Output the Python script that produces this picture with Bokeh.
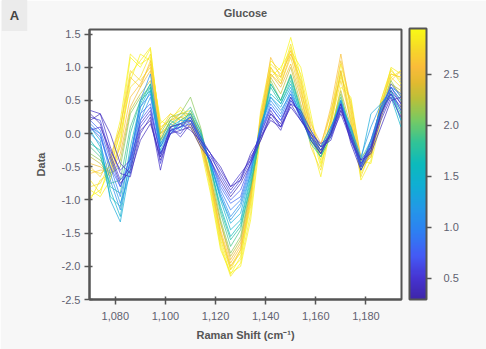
import numpy as np
from bokeh.plotting import figure
from bokeh.models import (ColumnDataSource, LinearColorMapper, ColorBar, FixedTicker,
                          NumeralTickFormatter, Label, Range1d)
from bokeh.transform import linear_cmap
from bokeh.embed import file_html
from bokeh.resources import INLINE

# ---------------- data ----------------
raman_shift = [1070, 1074, 1078, 1082, 1086, 1090, 1094, 1098, 1102, 1106, 1110, 1114,
               1118, 1122, 1126, 1130, 1134, 1138, 1142, 1146, 1150, 1154, 1158, 1162,
               1166, 1170, 1174, 1178, 1182, 1186, 1190, 1194]

concentration = [2.93, 2.90, 2.88, 2.85, 2.80, 2.75, 2.65, 2.60, 2.50, 2.30, 2.10, 1.90,
                 1.75, 1.65, 1.50, 1.35, 1.20, 1.10, 0.95, 0.80, 0.70, 0.60, 0.50, 0.45,
                 0.40, 0.35]

spectra = [
    [-0.95, -0.85, -0.55, 0.05, 1.15, 1.0, 1.28, 0.05, 0.25, 0.35, 0.2, -0.05, -0.8, -1.65, -2.12, -1.85, -1.1, 0.35, 1.1, 0.95, 1.45, 0.85, 0.05, -0.5, 0.25, 1.05, 0.4, -0.6, -0.3, 0.5, 0.98, 0.75],
    [-0.85, -0.95, -0.7, -0.15, 0.8, 1.2, 1.1, 0.2, 0.1, 0.25, 0.15, -0.2, -0.9, -1.75, -2.1, -2.0, -1.3, 0.0, 0.85, 1.0, 1.25, 1.0, 0.3, -0.45, 0.0, 0.7, 0.55, -0.4, -0.45, 0.2, 0.85, 0.95],
    [-0.7, -0.9, -0.4, 0.2, 1.2, 1.05, 1.15, 0.15, 0.3, 0.2, 0.3, 0.05, -0.65, -1.5, -2.05, -1.9, -1.0, 0.2, 1.0, 0.8, 1.3, 0.7, -0.1, -0.65, 0.1, 0.95, 0.3, -0.7, -0.4, 0.4, 0.9, 0.85],
    [-1.0, -0.7, -0.6, -0.1, 0.9, 1.1, 1.3, 0.0, 0.15, 0.3, 0.35, -0.1, -0.85, -1.7, -2.15, -1.95, -1.2, 0.1, 1.05, 0.9, 1.2, 0.9, 0.2, -0.3, 0.35, 0.85, 0.5, -0.5, -0.35, 0.35, 1.0, 0.9],
    [-0.55, -0.6, -0.5, 0.0, 0.7, 0.85, 1.2, 0.1, 0.2, 0.4, 0.25, 0.0, -0.7, -1.55, -2.0, -1.8, -0.95, 0.25, 0.95, 0.85, 1.35, 0.75, 0.0, -0.4, 0.2, 0.9, 0.25, -0.55, -0.2, 0.45, 0.85, 0.7],
    [-0.8, -0.75, -0.45, 0.1, 0.95, 0.8, 1.0, -0.05, 0.2, 0.25, 0.3, -0.05, -0.75, -1.6, -2.05, -1.75, -1.05, 0.15, 0.9, 0.75, 1.15, 0.6, -0.2, -0.55, 0.15, 0.8, 0.2, -0.65, -0.25, 0.5, 0.95, 0.8],
    [-0.5, -0.65, -0.35, 0.1, 0.85, 0.7, 1.1, 0.05, 0.3, 0.2, 0.1, -0.2, -0.75, -1.5, -2.0, -1.75, -0.95, 0.3, 1.0, 0.75, 1.2, 0.8, 0.15, -0.15, 0.3, 1.1, 0.45, -0.35, -0.2, 0.45, 0.9, 0.85],
    [-0.6, -0.55, -0.55, -0.2, 0.55, 0.75, 1.05, 0.0, 0.1, 0.25, 0.2, -0.1, -0.7, -1.45, -1.95, -1.7, -0.9, 0.2, 1.15, 0.85, 1.25, 0.65, 0.1, -0.2, 0.4, 1.2, 0.35, -0.45, -0.3, 0.3, 0.8, 0.95],
    [-0.45, -0.5, -0.6, -0.3, 0.4, 0.7, 0.95, -0.1, 0.1, 0.15, 0.2, -0.15, -0.65, -1.35, -1.9, -1.65, -0.85, 0.1, 0.9, 0.7, 1.05, 0.55, 0.0, -0.3, 0.2, 0.95, 0.15, -0.5, -0.35, 0.25, 0.75, 0.6],
    [-0.35, -0.45, -0.65, -0.4, 0.35, 0.6, 0.8, -0.1, 0.2, 0.3, 0.3, -0.05, -0.65, -1.35, -1.85, -1.6, -0.85, 0.05, 0.85, 0.6, 1.0, 0.45, -0.05, -0.35, 0.05, 0.65, 0.1, -0.55, -0.3, 0.35, 0.75, 0.65],
    [-0.3, -0.4, -0.6, -0.5, 0.3, 0.55, 0.7, 0.0, 0.25, 0.3, 0.55, 0.1, -0.55, -1.3, -1.8, -1.55, -0.8, 0.0, 0.8, 0.5, 0.9, 0.4, -0.1, -0.3, 0.0, 0.6, 0.0, -0.5, -0.25, 0.4, 0.8, 0.55],
    [-0.2, -0.35, -0.75, -0.7, 0.1, 0.5, 0.75, -0.15, 0.15, 0.25, 0.4, 0.05, -0.5, -1.2, -1.7, -1.45, -0.75, 0.0, 0.75, 0.5, 0.85, 0.35, -0.1, -0.35, 0.05, 0.55, 0.05, -0.45, -0.2, 0.35, 0.7, 0.5],
    [-0.15, -0.25, -0.8, -0.9, 0.0, 0.5, 0.65, -0.1, 0.2, 0.1, 0.35, 0.05, -0.5, -1.15, -1.6, -1.4, -0.8, 0.0, 0.7, 0.45, 0.8, 0.3, -0.15, -0.35, -0.05, 0.45, 0.1, -0.4, -0.1, 0.3, 0.65, 0.2],
    [-0.1, -0.3, -0.95, -1.1, -0.2, 0.45, 0.75, -0.2, 0.1, 0.2, 0.3, 0.0, -0.5, -1.1, -1.55, -1.35, -0.7, 0.05, 0.75, 0.5, 0.88, 0.35, -0.05, -0.3, 0.0, 0.5, 0.0, -0.45, -0.15, 0.35, 0.6, 0.3],
    [0.05, -0.2, -0.85, -1.25, -0.35, 0.4, 0.7, -0.25, 0.05, 0.15, 0.25, -0.05, -0.45, -1.0, -1.45, -1.3, -0.65, 0.1, 0.6, 0.45, 0.75, 0.3, -0.1, -0.25, 0.05, 0.5, -0.05, -0.5, -0.1, 0.4, 0.55, 0.1],
    [0.1, -0.1, -1.0, -1.33, -0.5, 0.3, 0.65, -0.3, 0.0, 0.2, 0.2, -0.05, -0.45, -0.95, -1.35, -1.2, -0.6, 0.1, 0.55, 0.4, 0.7, 0.25, -0.05, -0.2, 0.1, 0.45, 0.05, -0.4, 0.3, 0.45, 0.65, 0.35],
    [0.1, 0.0, -0.6, -1.05, -0.6, 0.2, 0.55, -0.2, 0.15, 0.05, 0.3, 0.0, -0.45, -0.95, -1.3, -1.1, -0.6, 0.15, 0.55, 0.35, 0.6, 0.3, 0.05, -0.2, 0.1, 0.4, 0.1, -0.35, 0.1, 0.45, 0.6, 0.2],
    [0.0, -0.15, -0.7, -1.15, -0.4, 0.5, 0.9, -0.15, 0.1, 0.15, 0.25, -0.1, -0.45, -0.9, -1.25, -1.05, -0.55, 0.1, 0.5, 0.3, 0.65, 0.25, -0.1, -0.3, 0.0, 0.5, 0.0, -0.55, -0.2, 0.35, 0.7, 0.5],
    [0.15, 0.0, -0.5, -0.95, -0.3, 0.4, 0.6, -0.2, 0.05, 0.1, 0.2, -0.1, -0.4, -0.85, -1.15, -1.0, -0.5, 0.05, 0.45, 0.25, 0.6, 0.2, -0.05, -0.25, 0.05, 0.45, -0.05, -0.5, -0.15, 0.4, 0.7, 0.6],
    [0.2, 0.05, -0.4, -0.8, -0.35, 0.3, 0.45, -0.3, 0.0, 0.1, 0.15, -0.15, -0.4, -0.8, -1.05, -0.95, -0.45, 0.0, 0.4, 0.2, 0.55, 0.25, 0.0, -0.2, 0.0, 0.4, -0.1, -0.45, -0.2, 0.3, 0.75, 0.55],
    [0.1, -0.05, -0.5, -0.8, -0.45, 0.2, 0.4, -0.35, 0.0, 0.15, 0.2, -0.1, -0.4, -0.75, -1.0, -0.85, -0.45, 0.05, 0.4, 0.2, 0.5, 0.3, -0.05, -0.3, 0.05, 0.45, -0.05, -0.5, -0.1, 0.4, 0.7, 0.45],
    [0.25, 0.2, -0.3, -0.7, -0.5, 0.1, 0.3, -0.45, 0.05, 0.0, 0.2, -0.1, -0.3, -0.65, -0.9, -0.7, -0.4, -0.05, 0.3, 0.1, 0.5, 0.3, -0.05, -0.25, -0.05, 0.4, -0.1, -0.5, -0.2, 0.25, 0.6, 0.35],
    [0.05, 0.1, -0.25, -0.55, -0.4, 0.15, 0.35, -0.3, 0.05, 0.1, 0.25, -0.05, -0.3, -0.55, -0.8, -0.6, -0.4, 0.0, 0.35, 0.1, 0.45, 0.2, 0.0, -0.15, -0.05, 0.3, -0.1, -0.4, -0.2, 0.3, 0.6, 0.4],
    [0.35, 0.3, -0.2, -0.6, -0.65, 0.0, 0.25, -0.55, 0.1, -0.05, 0.15, -0.15, -0.35, -0.6, -0.85, -0.65, -0.35, -0.1, 0.25, 0.05, 0.45, 0.35, 0.05, -0.2, -0.1, 0.35, -0.05, -0.45, -0.25, 0.2, 0.55, 0.25],
    [0.2, 0.3, 0.0, -0.45, -0.6, -0.1, 0.15, -0.35, 0.1, 0.15, 0.05, -0.1, -0.3, -0.5, -0.8, -0.7, -0.3, -0.05, 0.2, 0.1, 0.4, 0.2, 0.0, -0.25, 0.0, 0.35, 0.0, -0.4, -0.3, 0.1, 0.5, 0.55],
    [0.3, 0.15, -0.35, -0.75, -0.55, 0.05, 0.2, -0.4, 0.0, 0.05, 0.1, -0.2, -0.4, -0.7, -0.95, -0.75, -0.45, -0.1, 0.3, 0.15, 0.55, 0.25, -0.1, -0.3, 0.0, 0.45, -0.15, -0.55, -0.25, 0.3, 0.65, 0.45],
]

x_ticks = [1080, 1100, 1120, 1140, 1160, 1180]
y_ticks = [-2.5, -2.0, -1.5, -1.0, -0.5, 0.0, 0.5, 1.0, 1.5]
cbar_ticks = [0.5, 1.0, 1.5, 2.0, 2.5]
c_low, c_high = 0.29, 2.95

# parula-like palette built from anchor colours
anchors = [(0.00, (62, 38, 168)), (0.08, (70, 52, 210)), (0.16, (68, 90, 245)),
           (0.25, (45, 128, 242)), (0.33, (36, 151, 232)), (0.42, (16, 174, 212)),
           (0.50, (12, 186, 188)), (0.58, (50, 195, 150)), (0.66, (118, 202, 100)),
           (0.74, (185, 192, 58)), (0.80, (225, 186, 48)), (0.86, (250, 188, 58)),
           (0.93, (246, 218, 40)), (1.00, (249, 250, 22))]
pos = [a[0] for a in anchors]
palette = []
for t in np.linspace(0, 1, 256):
    rgb = [int(round(np.interp(t, pos, [a[1][k] for a in anchors]))) for k in range(3)]
    palette.append("#%02x%02x%02x" % tuple(rgb))

# ---------------- styles ----------------
FONT = "Liberation Sans"
AX = "#555555"
TICK_TXT = "#5f6170"

p = figure(width=486, height=349, output_backend="svg", toolbar_location=None,
           title_location=None,
           x_range=Range1d(1069.7, 1194.2), y_range=Range1d(-2.5, 1.57),
           min_border_left=89, min_border_right=85, min_border_top=29, min_border_bottom=50,
           background_fill_color="white", border_fill_color="#f7f7f7",
           outline_line_color=AX, outline_line_width=2)

src = ColumnDataSource(dict(xs=[raman_shift] * len(spectra), ys=spectra, c=concentration))
mapper = LinearColorMapper(palette=palette, low=c_low, high=c_high)
p.multi_line(xs="xs", ys="ys", source=src, line_width=1, line_alpha=0.7,
             line_color=linear_cmap("c", palette, c_low, c_high))

p.grid.visible = False

for ax in (p.xaxis[0], p.yaxis[0]):
    ax.axis_line_color = AX
    ax.axis_line_width = 2
    ax.major_tick_line_color = AX
    ax.major_tick_line_width = 1.5
    ax.major_tick_out = 5
    ax.major_tick_in = 3
    ax.minor_tick_line_color = None
    ax.major_label_text_font = FONT
    ax.major_label_text_font_size = "11px"
    ax.major_label_text_color = TICK_TXT
    ax.axis_label_text_font = FONT
    ax.axis_label_text_font_size = "11px"
    ax.axis_label_text_font_style = "bold"
    ax.axis_label_text_color = AX

p.xaxis.ticker = FixedTicker(ticks=x_ticks)
p.xaxis.formatter = NumeralTickFormatter(format="0,0")
p.xaxis.axis_label = "Raman Shift (cm⁻¹)"
p.xaxis.major_label_standoff = 7
p.xaxis.axis_label_standoff = 6

p.yaxis.ticker = FixedTicker(ticks=y_ticks)
p.yaxis.formatter = NumeralTickFormatter(format="0.0")
p.yaxis.axis_label = "Data"
p.yaxis.major_label_standoff = 4
p.yaxis.axis_label_standoff = 12

cb = ColorBar(color_mapper=mapper, ticker=FixedTicker(ticks=cbar_ticks),
              formatter=NumeralTickFormatter(format="0.0"),
              width=17, height=271, padding=0, margin=0, location=(8, 0),
              bar_line_color=AX, bar_line_width=2,
              major_tick_line_color=AX, major_tick_line_width=1.5,
              major_tick_out=5, major_tick_in=0, minor_tick_line_color=None,
              major_label_text_font=FONT, major_label_text_font_size="11px",
              major_label_text_color=TICK_TXT, label_standoff=12,
              background_fill_alpha=0, border_line_color=None)
p.add_layout(cb, "right")

# title, as a label in the top side panel (side panels are not clipped to the frame)
title = Label(x=156, y=17, x_units="screen", y_units="screen", text="Glucose",
              text_font=FONT, text_font_size="11px", text_font_style="bold",
              text_color=AX, text_align="center", text_baseline="middle")
p.add_layout(title, "above")

# panel tag "A" in the left side panel
tag = Label(x=8, y=284, x_units="screen", y_units="screen", text="A",
            text_font=FONT, text_font_size="13px", text_font_style="bold",
            text_color="#444444", text_align="center", text_baseline="middle",
            background_fill_color="#ebebeb", padding=8)
p.add_layout(tag, "left")

open("out.html", "w").write(file_html(p, INLINE))
